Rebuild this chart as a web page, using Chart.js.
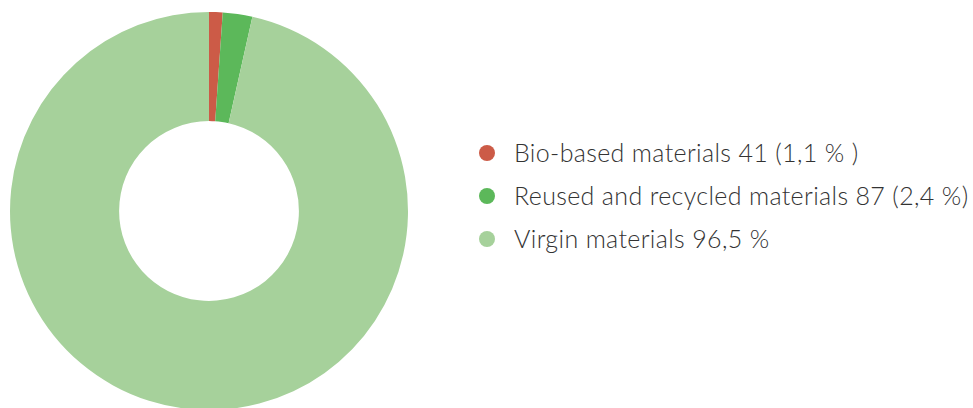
<!DOCTYPE html>
<html>
<head>
<meta charset="utf-8">
<script src="https://cdn.jsdelivr.net/npm/chart.js@4/dist/chart.umd.min.js"></script>
<style>
  html, body { margin: 0; padding: 0; background: #ffffff; }
  #wrap { position: relative; width: 973px; height: 408px; overflow: hidden; }
  #chartBox { position: absolute; left: 0; top: 0; width: 418px; height: 408px; }
  #legend { position: absolute; left: 479px; top: 131px; margin: 0; padding: 0; list-style: none;
            font-family: Lato, "Open Sans", sans-serif; font-weight: 300; font-size: 25px; letter-spacing: 0.35px; color: #333333; }
  #legend li { height: 43px; line-height: 43px; white-space: nowrap; position: relative; padding-left: 35px; }
  #legend li span.dot { position: absolute; left: 0; top: 14px; width: 16px; height: 16px; border-radius: 50%; }
</style>
</head>
<body>
<div id="wrap">
  <div id="chartBox"><canvas id="c" width="418" height="408"></canvas></div>
  <ul id="legend"></ul>
</div>
<script>
const categories = ["Bio-based materials 41 (1,1 % )", "Reused and recycled materials 87 (2,4 %)", "Virgin materials 96,5 %"];
const shares = [1.1, 2.4, 96.5];
const colors = ["#cc5b47", "#5cb85a", "#a6d19b"];

const chart = new Chart(document.getElementById('c'), {
  type: 'doughnut',
  data: {
    labels: categories,
    datasets: [{
      data: shares,
      backgroundColor: colors,
      borderWidth: 0,
      radius: 199,
      cutout: 89,
      hoverOffset: 0
    }]
  },
  options: {
    responsive: false,
    animation: false,
    layout: { padding: { top: 14, bottom: 0, left: 0, right: 0 } },
    plugins: { legend: { display: false }, tooltip: { enabled: false } }
  }
});

const ul = document.getElementById('legend');
chart.data.labels.forEach((lab, i) => {
  const li = document.createElement('li');
  const dot = document.createElement('span');
  dot.className = 'dot';
  dot.style.background = chart.data.datasets[0].backgroundColor[i];
  li.appendChild(dot);
  li.appendChild(document.createTextNode(lab));
  ul.appendChild(li);
});
</script>
</body>
</html>
